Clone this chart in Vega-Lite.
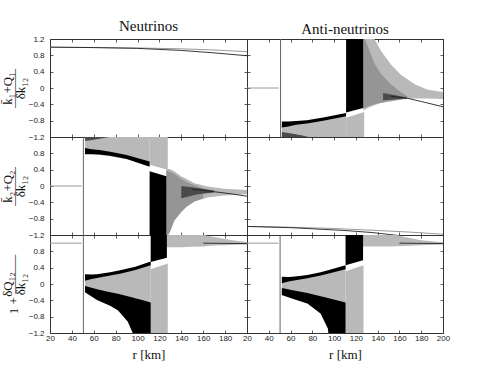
{
"$schema":"https://vega.github.io/schema/vega-lite/v6.json",
"padding":{"left":0,"top":18,"right":5,"bottom":5},
"background":"white",
"config":{
 "view":{"stroke":"#333","strokeWidth":1},
 "axis":{"domain":false,"grid":false,"tickSize":-3,"tickColor":"#333","tickWidth":0.8,"labelFont":"Liberation Sans","labelFontSize":8,"labelColor":"#222","labelFlush":false,"labelOverlap":false,"titleFont":"Liberation Serif","titleFontWeight":"normal","titleColor":"#111"},
 "axisLeft":{"labelPadding":9},
 "axisBottom":{"labelPadding":4},
 "title":{"font":"Liberation Serif","fontSize":15,"fontWeight":"normal","color":"#111","offset":1.5}
},
"data":{"values":[
{"p":"a","m":"lk","id":"a1","x":20,"y":1.0},{"p":"a","m":"lk","id":"a1","x":60,"y":0.99},{"p":"a","m":"lk","id":"a1","x":100,"y":0.97},{"p":"a","m":"lk","id":"a1","x":140,"y":0.92},{"p":"a","m":"lk","id":"a1","x":170,"y":0.86},{"p":"a","m":"lk","id":"a1","x":200,"y":0.79},
{"p":"a","m":"lg","id":"a2","x":20,"y":1.0},{"p":"a","m":"lg","id":"a2","x":60,"y":0.99},{"p":"a","m":"lg","id":"a2","x":100,"y":0.98},{"p":"a","m":"lg","id":"a2","x":140,"y":0.96},{"p":"a","m":"lg","id":"a2","x":170,"y":0.93},{"p":"a","m":"lg","id":"a2","x":200,"y":0.89},

{"p":"d","m":"lk","id":"d1","x":20,"y":-0.99},{"p":"d","m":"lk","id":"d1","x":60,"y":-1.02},{"p":"d","m":"lk","id":"d1","x":110,"y":-1.09},{"p":"d","m":"lk","id":"d1","x":135,"y":-1.14},{"p":"d","m":"lk","id":"d1","x":155,"y":-1.2},{"p":"d","m":"lk","id":"d1","x":200,"y":-1.33},
{"p":"d","m":"lg","id":"d2","x":20,"y":-0.99},{"p":"d","m":"lg","id":"d2","x":60,"y":-1.01},{"p":"d","m":"lg","id":"d2","x":100,"y":-1.04},{"p":"d","m":"lg","id":"d2","x":140,"y":-1.09},{"p":"d","m":"lg","id":"d2","x":170,"y":-1.13},{"p":"d","m":"lg","id":"d2","x":200,"y":-1.18},

{"p":"b","m":"lg","id":"b1","x":20,"y":0},{"p":"b","m":"lg","id":"b1","x":49,"y":0},
{"p":"b","m":"lv","id":"b2","x":50.8,"y":-1.3},{"p":"b","m":"lv","id":"b2","x":50.8,"y":1.3},
{"p":"b","m":"lk","id":"b3","x":152,"y":-0.2},{"p":"b","m":"lk","id":"b3","x":167,"y":-0.25},{"p":"b","m":"lk","id":"b3","x":180,"y":-0.33},{"p":"b","m":"lk","id":"b3","x":200,"y":-0.46},
{"p":"b","m":"g","id":"bg1","x":52,"y":-0.89,"y2":-1.3},{"p":"b","m":"g","id":"bg1","x":70,"y":-0.84,"y2":-1.3},{"p":"b","m":"g","id":"bg1","x":90,"y":-0.76,"y2":-1.3},{"p":"b","m":"g","id":"bg1","x":111,"y":-0.65,"y2":-1.3},
{"p":"b","m":"g","id":"bg2","x":111,"y":-0.73,"y2":-1.3},{"p":"b","m":"g","id":"bg2","x":127.6,"y":-0.59,"y2":-1.3},
{"p":"b","m":"g","id":"bg3","x":126.7,"y":1.3,"y2":-0.55},{"p":"b","m":"g","id":"bg3","x":132,"y":1.3,"y2":-0.48},{"p":"b","m":"g","id":"bg3","x":137,"y":1.2,"y2":-0.42},{"p":"b","m":"g","id":"bg3","x":143,"y":0.91,"y2":-0.37},{"p":"b","m":"g","id":"bg3","x":152,"y":0.58,"y2":-0.33},{"p":"b","m":"g","id":"bg3","x":161,"y":0.33,"y2":-0.29},{"p":"b","m":"g","id":"bg3","x":167,"y":0.22,"y2":-0.27},{"p":"b","m":"g","id":"bg3","x":174,"y":0.09,"y2":-0.26},{"p":"b","m":"g","id":"bg3","x":186,"y":-0.04,"y2":-0.26},{"p":"b","m":"g","id":"bg3","x":200,"y":-0.1,"y2":-0.27},
{"p":"b","m":"m","id":"bm1","x":126.7,"y":1.3,"y2":-0.5},{"p":"b","m":"m","id":"bm1","x":132,"y":0.95,"y2":-0.44},{"p":"b","m":"m","id":"bm1","x":137,"y":0.6,"y2":-0.4},{"p":"b","m":"m","id":"bm1","x":143,"y":0.35,"y2":-0.36},{"p":"b","m":"m","id":"bm1","x":152,"y":0.1,"y2":-0.31},{"p":"b","m":"m","id":"bm1","x":161,"y":-0.1,"y2":-0.28},{"p":"b","m":"m","id":"bm1","x":167,"y":-0.2,"y2":-0.25},
{"p":"b","m":"k","id":"bk1","x":52,"y":-0.82,"y2":-0.97},{"p":"b","m":"k","id":"bk1","x":58,"y":-0.82,"y2":-0.94},{"p":"b","m":"k","id":"bk1","x":65,"y":-0.81,"y2":-0.9},{"p":"b","m":"k","id":"bk1","x":75,"y":-0.79,"y2":-0.87},{"p":"b","m":"k","id":"bk1","x":90,"y":-0.72,"y2":-0.8},{"p":"b","m":"k","id":"bk1","x":111,"y":-0.61,"y2":-0.69},
{"p":"b","m":"d","id":"bk2","x":52,"y":-1.08,"y2":-1.3},{"p":"b","m":"d","id":"bk2","x":62,"y":-1.12,"y2":-1.3},{"p":"b","m":"d","id":"bk2","x":70,"y":-1.16,"y2":-1.3},{"p":"b","m":"d","id":"bk2","x":78,"y":-1.21,"y2":-1.3},
{"p":"b","m":"k","id":"bk3","x":111,"y":1.3,"y2":-0.6},{"p":"b","m":"k","id":"bk3","x":126.7,"y":1.3,"y2":-0.49},
{"p":"b","m":"d","id":"bd1","x":145,"y":-0.12,"y2":-0.3},{"p":"b","m":"d","id":"bd1","x":155,"y":-0.17,"y2":-0.28},{"p":"b","m":"d","id":"bd1","x":167,"y":-0.23,"y2":-0.26},

{"p":"c","m":"lg","id":"c1","x":20,"y":0},{"p":"c","m":"lg","id":"c1","x":49,"y":0},
{"p":"c","m":"lv","id":"c2","x":50.5,"y":-1.3},{"p":"c","m":"lv","id":"c2","x":50.5,"y":1.3},
{"p":"c","m":"lk","id":"c3","x":150,"y":-0.08},{"p":"c","m":"lk","id":"c3","x":170,"y":-0.14},{"p":"c","m":"lk","id":"c3","x":185,"y":-0.19},{"p":"c","m":"lk","id":"c3","x":200,"y":-0.25},
{"p":"c","m":"g","id":"cg1","x":52,"y":1.3,"y2":0.8},{"p":"c","m":"g","id":"cg1","x":60,"y":1.3,"y2":0.78},{"p":"c","m":"g","id":"cg1","x":70,"y":1.3,"y2":0.75},{"p":"c","m":"g","id":"cg1","x":90,"y":1.3,"y2":0.66},{"p":"c","m":"g","id":"cg1","x":111,"y":1.3,"y2":0.5},
{"p":"c","m":"g","id":"cg2","x":111,"y":1.3,"y2":0.52},{"p":"c","m":"g","id":"cg2","x":127.6,"y":1.3,"y2":0.4},
{"p":"c","m":"g","id":"cg3","x":126.3,"y":0.42,"y2":-1.3},{"p":"c","m":"g","id":"cg3","x":130,"y":0.41,"y2":-1.05},{"p":"c","m":"g","id":"cg3","x":133.6,"y":0.36,"y2":-0.79},{"p":"c","m":"g","id":"cg3","x":139.8,"y":0.24,"y2":-0.6},{"p":"c","m":"g","id":"cg3","x":142.8,"y":0.2,"y2":-0.54},{"p":"c","m":"g","id":"cg3","x":151.9,"y":0.07,"y2":-0.38},{"p":"c","m":"g","id":"cg3","x":164,"y":-0.01,"y2":-0.28},{"p":"c","m":"g","id":"cg3","x":179,"y":-0.07,"y2":-0.23},{"p":"c","m":"g","id":"cg3","x":200,"y":-0.1,"y2":-0.2},
{"p":"c","m":"m","id":"cm1","x":126.3,"y":0.38,"y2":-1.3},{"p":"c","m":"m","id":"cm1","x":130,"y":0.35,"y2":-1.1},{"p":"c","m":"m","id":"cm1","x":133.6,"y":0.3,"y2":-0.85},{"p":"c","m":"m","id":"cm1","x":139.8,"y":0.18,"y2":-0.64},{"p":"c","m":"m","id":"cm1","x":145,"y":0.1,"y2":-0.5},{"p":"c","m":"m","id":"cm1","x":152,"y":0.02,"y2":-0.38},{"p":"c","m":"m","id":"cm1","x":160,"y":-0.06,"y2":-0.3},
{"p":"c","m":"k","id":"ck1","x":52,"y":0.93,"y2":0.78},{"p":"c","m":"k","id":"ck1","x":58,"y":0.9,"y2":0.78},{"p":"c","m":"k","id":"ck1","x":65,"y":0.88,"y2":0.77},{"p":"c","m":"k","id":"ck1","x":75,"y":0.84,"y2":0.74},{"p":"c","m":"k","id":"ck1","x":90,"y":0.76,"y2":0.66},{"p":"c","m":"k","id":"ck1","x":111,"y":0.6,"y2":0.47},
{"p":"c","m":"d","id":"ck2","x":52,"y":1.3,"y2":1.1},{"p":"c","m":"d","id":"ck2","x":60,"y":1.3,"y2":1.13},{"p":"c","m":"d","id":"ck2","x":68,"y":1.3,"y2":1.17},{"p":"c","m":"d","id":"ck2","x":76,"y":1.3,"y2":1.21},
{"p":"c","m":"k","id":"ck3","x":111,"y":0.36,"y2":-1.3},{"p":"c","m":"k","id":"ck3","x":126.3,"y":0.24,"y2":-1.3},
{"p":"c","m":"d","id":"cd1","x":140,"y":0.0,"y2":-0.3},{"p":"c","m":"d","id":"cd1","x":155,"y":-0.05,"y2":-0.2},{"p":"c","m":"d","id":"cd1","x":170,"y":-0.11,"y2":-0.16},

{"p":"e","m":"lg","id":"e1","x":20,"y":1.0},{"p":"e","m":"lg","id":"e1","x":49,"y":1.0},
{"p":"e","m":"lv","id":"e2","x":50.5,"y":-1.3},{"p":"e","m":"lv","id":"e2","x":50.5,"y":1.3},
{"p":"e","m":"lk","id":"e3","x":160,"y":1.0},{"p":"e","m":"lk","id":"e3","x":200,"y":0.99},
{"p":"e","m":"g","id":"eg1","x":52,"y":0.16,"y2":-0.2},{"p":"e","m":"g","id":"eg1","x":63,"y":0.2,"y2":-0.39},{"p":"e","m":"g","id":"eg1","x":75,"y":0.25,"y2":-0.53},{"p":"e","m":"g","id":"eg1","x":82,"y":0.28,"y2":-0.64},{"p":"e","m":"g","id":"eg1","x":91,"y":0.33,"y2":-0.92},{"p":"e","m":"g","id":"eg1","x":95.6,"y":0.36,"y2":-1.2},{"p":"e","m":"g","id":"eg1","x":97,"y":0.37,"y2":-1.3},{"p":"e","m":"g","id":"eg1","x":112,"y":0.5,"y2":-1.3},
{"p":"e","m":"g","id":"eg2","x":112,"y":0.36,"y2":-1.3},{"p":"e","m":"g","id":"eg2","x":127.6,"y":0.5,"y2":-1.3},
{"p":"e","m":"g","id":"eg3","x":126.8,"y":1.3,"y2":0.9},{"p":"e","m":"g","id":"eg3","x":140,"y":1.3,"y2":0.9},{"p":"e","m":"g","id":"eg3","x":150,"y":1.25,"y2":0.91},{"p":"e","m":"g","id":"eg3","x":160,"y":1.2,"y2":0.92},{"p":"e","m":"g","id":"eg3","x":170,"y":1.15,"y2":0.94},{"p":"e","m":"g","id":"eg3","x":180,"y":1.1,"y2":0.95},{"p":"e","m":"g","id":"eg3","x":190,"y":1.06,"y2":0.96},{"p":"e","m":"g","id":"eg3","x":200,"y":1.03,"y2":0.97},
{"p":"e","m":"k","id":"ek1","x":52,"y":0.24,"y2":0.08},{"p":"e","m":"k","id":"ek1","x":58,"y":0.23,"y2":0.12},{"p":"e","m":"k","id":"ek1","x":63,"y":0.24,"y2":0.15},{"p":"e","m":"k","id":"ek1","x":75,"y":0.29,"y2":0.21},{"p":"e","m":"k","id":"ek1","x":85,"y":0.34,"y2":0.26},{"p":"e","m":"k","id":"ek1","x":98,"y":0.42,"y2":0.34},{"p":"e","m":"k","id":"ek1","x":112,"y":0.55,"y2":0.46},
{"p":"e","m":"k","id":"ek2","x":52,"y":-0.05,"y2":-0.2},{"p":"e","m":"k","id":"ek2","x":63,"y":-0.13,"y2":-0.39},{"p":"e","m":"k","id":"ek2","x":75,"y":-0.2,"y2":-0.53},{"p":"e","m":"k","id":"ek2","x":82,"y":-0.24,"y2":-0.64},{"p":"e","m":"k","id":"ek2","x":91,"y":-0.3,"y2":-0.92},{"p":"e","m":"k","id":"ek2","x":95.6,"y":-0.33,"y2":-1.2},{"p":"e","m":"k","id":"ek2","x":97,"y":-0.34,"y2":-1.3},{"p":"e","m":"k","id":"ek2","x":105,"y":-0.4,"y2":-1.3},{"p":"e","m":"k","id":"ek2","x":112,"y":-0.45,"y2":-1.3},
{"p":"e","m":"k","id":"ek3","x":112,"y":1.3,"y2":0.54},{"p":"e","m":"k","id":"ek3","x":126.8,"y":1.3,"y2":0.64},

{"p":"f","m":"lg","id":"f1","x":20,"y":1.0},{"p":"f","m":"lg","id":"f1","x":49,"y":1.0},
{"p":"f","m":"lv","id":"f2","x":50.4,"y":-1.3},{"p":"f","m":"lv","id":"f2","x":50.4,"y":1.3},
{"p":"f","m":"lk","id":"f3","x":160,"y":1.0},{"p":"f","m":"lk","id":"f3","x":200,"y":0.99},
{"p":"f","m":"g","id":"fg1","x":52,"y":0.1,"y2":-0.27},{"p":"f","m":"g","id":"fg1","x":62,"y":0.13,"y2":-0.36},{"p":"f","m":"g","id":"fg1","x":75.5,"y":0.18,"y2":-0.48},{"p":"f","m":"g","id":"fg1","x":87.6,"y":0.25,"y2":-0.72},{"p":"f","m":"g","id":"fg1","x":94.3,"y":0.29,"y2":-1.09},{"p":"f","m":"g","id":"fg1","x":95.2,"y":0.3,"y2":-1.3},{"p":"f","m":"g","id":"fg1","x":110.5,"y":0.41,"y2":-1.3},
{"p":"f","m":"g","id":"fg2","x":110.5,"y":0.31,"y2":-1.3},{"p":"f","m":"g","id":"fg2","x":127,"y":0.46,"y2":-1.3},
{"p":"f","m":"g","id":"fg3","x":126.6,"y":1.3,"y2":0.92},{"p":"f","m":"g","id":"fg3","x":140,"y":1.3,"y2":0.92},{"p":"f","m":"g","id":"fg3","x":150,"y":1.25,"y2":0.92},{"p":"f","m":"g","id":"fg3","x":165,"y":1.15,"y2":0.93},{"p":"f","m":"g","id":"fg3","x":180,"y":1.07,"y2":0.95},{"p":"f","m":"g","id":"fg3","x":200,"y":1.02,"y2":0.97},
{"p":"f","m":"k","id":"fk1","x":52,"y":0.18,"y2":0.02},{"p":"f","m":"k","id":"fk1","x":58,"y":0.17,"y2":0.06},{"p":"f","m":"k","id":"fk1","x":62,"y":0.18,"y2":0.08},{"p":"f","m":"k","id":"fk1","x":75.5,"y":0.22,"y2":0.14},{"p":"f","m":"k","id":"fk1","x":87.6,"y":0.29,"y2":0.21},{"p":"f","m":"k","id":"fk1","x":95.2,"y":0.34,"y2":0.26},{"p":"f","m":"k","id":"fk1","x":110.5,"y":0.46,"y2":0.36},
{"p":"f","m":"k","id":"fk2","x":52,"y":-0.1,"y2":-0.27},{"p":"f","m":"k","id":"fk2","x":62,"y":-0.15,"y2":-0.36},{"p":"f","m":"k","id":"fk2","x":75.5,"y":-0.22,"y2":-0.48},{"p":"f","m":"k","id":"fk2","x":87.6,"y":-0.3,"y2":-0.72},{"p":"f","m":"k","id":"fk2","x":94.3,"y":-0.34,"y2":-1.09},{"p":"f","m":"k","id":"fk2","x":95.2,"y":-0.35,"y2":-1.3},{"p":"f","m":"k","id":"fk2","x":110.5,"y":-0.45,"y2":-1.3},
{"p":"f","m":"k","id":"fk3","x":110.5,"y":1.3,"y2":0.46},{"p":"f","m":"k","id":"fk3","x":126.6,"y":1.3,"y2":0.58}
]},
"columns":2,
"spacing":0,
"bounds":"flush",
"concat":[
{"width":197,"height":98,"title":"Neutrinos","transform":[{"filter":"datum.p=='a'"}],
 "encoding":{"x":{"field":"x","type":"quantitative","scale":{"domain":[20,200],"nice":false,"zero":false},"axis":null},"y":{"field":"y","type":"quantitative","scale":{"domain":[-1.2,1.2],"nice":false,"zero":false},"axis":null},"detail":{"field":"id"}},
 "layer":[
  {"transform":[{"filter":"datum.m=='g'"}],"mark":{"type":"area","clip":true,"color":"#b9b9b9"},"encoding":{"x":{"field":"x","type":"quantitative","scale":{"domain":[20,200],"nice":false,"zero":false},"axis":{"orient":"bottom","values":[20,40,60,80,100,120,140,160,180,200],"labels":false,"title":null}},"y":{"field":"y","type":"quantitative","scale":{"domain":[-1.2,1.2],"nice":false,"zero":false},"axis":{"orient":"left","values":[-1.2,-0.8,-0.4,0,0.4,0.8,1.2],"format":".1~f","title":["k̄₁+Q₁","———","δk₁₂"],"titleFontSize":13,"titleLineHeight":6.5,"titlePadding":1}},"y2":{"field":"y2"}}},
  {"transform":[{"filter":"datum.m=='lg'"}],"mark":{"type":"line","clip":true,"color":"#9a9a9a","strokeWidth":1}},
  {"transform":[{"filter":"datum.m=='lk'"}],"mark":{"type":"line","clip":true,"color":"#222","strokeWidth":0.9}},
  {"transform":[{"filter":"datum.m=='none'"}],"mark":{"type":"line","clip":true},"encoding":{"x":{"field":"x","type":"quantitative","scale":{"domain":[20,200],"nice":false,"zero":false},"axis":{"orient":"top","values":[20,40,60,80,100,120,140,160,180,200],"labels":false,"title":null}},"y":{"field":"y","type":"quantitative","scale":{"domain":[-1.2,1.2],"nice":false,"zero":false},"axis":{"orient":"right","values":[-1.2,-0.8,-0.4,0,0.4,0.8,1.2],"labels":false,"title":null}}}}
 ],
 "resolve":{"axis":{"x":"independent","y":"independent"}}},
{"width":196,"height":98,"title":"Anti-neutrinos","transform":[{"filter":"datum.p=='b'"}],
 "encoding":{"x":{"field":"x","type":"quantitative","scale":{"domain":[20,200],"nice":false,"zero":false},"axis":null},"y":{"field":"y","type":"quantitative","scale":{"domain":[-1.2,1.2],"nice":false,"zero":false},"axis":null},"detail":{"field":"id"}},
 "layer":[
  {"transform":[{"filter":"datum.m=='g'"}],"mark":{"type":"area","clip":true,"color":"#b9b9b9"},"encoding":{"x":{"field":"x","type":"quantitative","scale":{"domain":[20,200],"nice":false,"zero":false},"axis":{"orient":"bottom","values":[20,40,60,80,100,120,140,160,180,200],"labels":false,"title":null}},"y":{"field":"y","type":"quantitative","scale":{"domain":[-1.2,1.2],"nice":false,"zero":false},"axis":{"orient":"left","values":[-1.2,-0.8,-0.4,0,0.4,0.8,1.2],"labels":false,"title":null}},"y2":{"field":"y2"}}},
  {"transform":[{"filter":"datum.m=='m'"}],"mark":{"type":"area","clip":true,"color":"#959595"},"encoding":{"y2":{"field":"y2"}}},
  {"transform":[{"filter":"datum.m=='d'"}],"mark":{"type":"area","clip":true,"color":"#4a4a4a"},"encoding":{"y2":{"field":"y2"}}},
  {"transform":[{"filter":"datum.m=='k'"}],"mark":{"type":"area","clip":true,"color":"#000"},"encoding":{"y2":{"field":"y2"}}},
  {"transform":[{"filter":"datum.m=='lg'"}],"mark":{"type":"line","clip":true,"color":"#9a9a9a","strokeWidth":1}},
  {"transform":[{"filter":"datum.m=='lk'"}],"mark":{"type":"line","clip":true,"color":"#222","strokeWidth":0.9}},
  {"transform":[{"filter":"datum.m=='lv'"}],"mark":{"type":"line","clip":true,"color":"#666","strokeWidth":1}},
  {"transform":[{"filter":"datum.m=='none'"}],"mark":{"type":"line","clip":true},"encoding":{"x":{"field":"x","type":"quantitative","scale":{"domain":[20,200],"nice":false,"zero":false},"axis":{"orient":"top","values":[20,40,60,80,100,120,140,160,180,200],"labels":false,"title":null}},"y":{"field":"y","type":"quantitative","scale":{"domain":[-1.2,1.2],"nice":false,"zero":false},"axis":{"orient":"right","values":[-1.2,-0.8,-0.4,0,0.4,0.8,1.2],"labels":false,"title":null}}}}
 ],
 "resolve":{"axis":{"x":"independent","y":"independent"}}},
{"width":197,"height":98,"transform":[{"filter":"datum.p=='c'"}],
 "encoding":{"x":{"field":"x","type":"quantitative","scale":{"domain":[20,200],"nice":false,"zero":false},"axis":null},"y":{"field":"y","type":"quantitative","scale":{"domain":[-1.2,1.2],"nice":false,"zero":false},"axis":null},"detail":{"field":"id"}},
 "layer":[
  {"transform":[{"filter":"datum.m=='g'"}],"mark":{"type":"area","clip":true,"color":"#b9b9b9"},"encoding":{"x":{"field":"x","type":"quantitative","scale":{"domain":[20,200],"nice":false,"zero":false},"axis":{"orient":"bottom","values":[20,40,60,80,100,120,140,160,180,200],"labels":false,"title":null}},"y":{"field":"y","type":"quantitative","scale":{"domain":[-1.2,1.2],"nice":false,"zero":false},"axis":{"orient":"left","values":[-1.2,-0.8,-0.4,0,0.4,0.8,1.2],"format":".1~f","labelExpr":"datum.value==1.2?'':datum.label","title":["k̄₂+Q₂","———","δk₁₂"],"titleFontSize":13,"titleLineHeight":6.5,"titlePadding":1}},"y2":{"field":"y2"}}},
  {"transform":[{"filter":"datum.m=='m'"}],"mark":{"type":"area","clip":true,"color":"#959595"},"encoding":{"y2":{"field":"y2"}}},
  {"transform":[{"filter":"datum.m=='d'"}],"mark":{"type":"area","clip":true,"color":"#4a4a4a"},"encoding":{"y2":{"field":"y2"}}},
  {"transform":[{"filter":"datum.m=='k'"}],"mark":{"type":"area","clip":true,"color":"#000"},"encoding":{"y2":{"field":"y2"}}},
  {"transform":[{"filter":"datum.m=='lg'"}],"mark":{"type":"line","clip":true,"color":"#9a9a9a","strokeWidth":1}},
  {"transform":[{"filter":"datum.m=='lk'"}],"mark":{"type":"line","clip":true,"color":"#222","strokeWidth":0.9}},
  {"transform":[{"filter":"datum.m=='lv'"}],"mark":{"type":"line","clip":true,"color":"#666","strokeWidth":1}},
  {"transform":[{"filter":"datum.m=='none'"}],"mark":{"type":"line","clip":true},"encoding":{"x":{"field":"x","type":"quantitative","scale":{"domain":[20,200],"nice":false,"zero":false},"axis":{"orient":"top","values":[20,40,60,80,100,120,140,160,180,200],"labels":false,"title":null}},"y":{"field":"y","type":"quantitative","scale":{"domain":[-1.2,1.2],"nice":false,"zero":false},"axis":{"orient":"right","values":[-1.2,-0.8,-0.4,0,0.4,0.8,1.2],"labels":false,"title":null}}}}
 ],
 "resolve":{"axis":{"x":"independent","y":"independent"}}},
{"width":196,"height":98,"transform":[{"filter":"datum.p=='d'"}],
 "encoding":{"x":{"field":"x","type":"quantitative","scale":{"domain":[20,200],"nice":false,"zero":false},"axis":null},"y":{"field":"y","type":"quantitative","scale":{"domain":[-1.2,1.2],"nice":false,"zero":false},"axis":null},"detail":{"field":"id"}},
 "layer":[
  {"transform":[{"filter":"datum.m=='g'"}],"mark":{"type":"area","clip":true,"color":"#b9b9b9"},"encoding":{"x":{"field":"x","type":"quantitative","scale":{"domain":[20,200],"nice":false,"zero":false},"axis":{"orient":"bottom","values":[20,40,60,80,100,120,140,160,180,200],"labels":false,"title":null}},"y":{"field":"y","type":"quantitative","scale":{"domain":[-1.2,1.2],"nice":false,"zero":false},"axis":{"orient":"left","values":[-1.2,-0.8,-0.4,0,0.4,0.8,1.2],"labels":false,"title":null}},"y2":{"field":"y2"}}},
  {"transform":[{"filter":"datum.m=='lg'"}],"mark":{"type":"line","clip":true,"color":"#9a9a9a","strokeWidth":1}},
  {"transform":[{"filter":"datum.m=='lk'"}],"mark":{"type":"line","clip":true,"color":"#222","strokeWidth":0.9}},
  {"transform":[{"filter":"datum.m=='none'"}],"mark":{"type":"line","clip":true},"encoding":{"x":{"field":"x","type":"quantitative","scale":{"domain":[20,200],"nice":false,"zero":false},"axis":{"orient":"top","values":[20,40,60,80,100,120,140,160,180,200],"labels":false,"title":null}},"y":{"field":"y","type":"quantitative","scale":{"domain":[-1.2,1.2],"nice":false,"zero":false},"axis":{"orient":"right","values":[-1.2,-0.8,-0.4,0,0.4,0.8,1.2],"labels":false,"title":null}}}}
 ],
 "resolve":{"axis":{"x":"independent","y":"independent"}}},
{"width":197,"height":98,"transform":[{"filter":"datum.p=='e'"}],
 "encoding":{"x":{"field":"x","type":"quantitative","scale":{"domain":[20,200],"nice":false,"zero":false},"axis":null},"y":{"field":"y","type":"quantitative","scale":{"domain":[-1.2,1.2],"nice":false,"zero":false},"axis":null},"detail":{"field":"id"}},
 "layer":[
  {"transform":[{"filter":"datum.m=='g'"}],"mark":{"type":"area","clip":true,"color":"#b9b9b9"},"encoding":{"x":{"field":"x","type":"quantitative","scale":{"domain":[20,200],"nice":false,"zero":false},"axis":{"orient":"bottom","values":[20,40,60,80,100,120,140,160,180,200],"format":"d","labelExpr":"datum.value==200?'':datum.label","title":"r [km]","titleFontSize":13,"titlePadding":6}},"y":{"field":"y","type":"quantitative","scale":{"domain":[-1.2,1.2],"nice":false,"zero":false},"axis":{"orient":"left","values":[-1.2,-0.8,-0.4,0,0.4,0.8,1.2],"format":".1~f","labelExpr":"datum.value==1.2?'':datum.label","title":["        δQ₁₂","1 + ———","        δk₁₂"],"titleFontSize":13,"titleLineHeight":6.5,"titlePadding":1}},"y2":{"field":"y2"}}},
  {"transform":[{"filter":"datum.m=='m'"}],"mark":{"type":"area","clip":true,"color":"#959595"},"encoding":{"y2":{"field":"y2"}}},
  {"transform":[{"filter":"datum.m=='k'"}],"mark":{"type":"area","clip":true,"color":"#000"},"encoding":{"y2":{"field":"y2"}}},
  {"transform":[{"filter":"datum.m=='lg'"}],"mark":{"type":"line","clip":true,"color":"#9a9a9a","strokeWidth":1}},
  {"transform":[{"filter":"datum.m=='lk'"}],"mark":{"type":"line","clip":true,"color":"#222","strokeWidth":0.9}},
  {"transform":[{"filter":"datum.m=='lv'"}],"mark":{"type":"line","clip":true,"color":"#666","strokeWidth":1}},
  {"transform":[{"filter":"datum.m=='none'"}],"mark":{"type":"line","clip":true},"encoding":{"x":{"field":"x","type":"quantitative","scale":{"domain":[20,200],"nice":false,"zero":false},"axis":{"orient":"top","values":[20,40,60,80,100,120,140,160,180,200],"labels":false,"title":null}},"y":{"field":"y","type":"quantitative","scale":{"domain":[-1.2,1.2],"nice":false,"zero":false},"axis":{"orient":"right","values":[-1.2,-0.8,-0.4,0,0.4,0.8,1.2],"labels":false,"title":null}}}}
 ],
 "resolve":{"axis":{"x":"independent","y":"independent"}}},
{"width":196,"height":98,"transform":[{"filter":"datum.p=='f'"}],
 "encoding":{"x":{"field":"x","type":"quantitative","scale":{"domain":[20,200],"nice":false,"zero":false},"axis":null},"y":{"field":"y","type":"quantitative","scale":{"domain":[-1.2,1.2],"nice":false,"zero":false},"axis":null},"detail":{"field":"id"}},
 "layer":[
  {"transform":[{"filter":"datum.m=='g'"}],"mark":{"type":"area","clip":true,"color":"#b9b9b9"},"encoding":{"x":{"field":"x","type":"quantitative","scale":{"domain":[20,200],"nice":false,"zero":false},"axis":{"orient":"bottom","values":[20,40,60,80,100,120,140,160,180,200],"format":"d","title":"r [km]","titleFontSize":13,"titlePadding":6}},"y":{"field":"y","type":"quantitative","scale":{"domain":[-1.2,1.2],"nice":false,"zero":false},"axis":{"orient":"left","values":[-1.2,-0.8,-0.4,0,0.4,0.8,1.2],"labels":false,"title":null}},"y2":{"field":"y2"}}},
  {"transform":[{"filter":"datum.m=='m'"}],"mark":{"type":"area","clip":true,"color":"#959595"},"encoding":{"y2":{"field":"y2"}}},
  {"transform":[{"filter":"datum.m=='k'"}],"mark":{"type":"area","clip":true,"color":"#000"},"encoding":{"y2":{"field":"y2"}}},
  {"transform":[{"filter":"datum.m=='lg'"}],"mark":{"type":"line","clip":true,"color":"#9a9a9a","strokeWidth":1}},
  {"transform":[{"filter":"datum.m=='lk'"}],"mark":{"type":"line","clip":true,"color":"#222","strokeWidth":0.9}},
  {"transform":[{"filter":"datum.m=='lv'"}],"mark":{"type":"line","clip":true,"color":"#666","strokeWidth":1}},
  {"transform":[{"filter":"datum.m=='none'"}],"mark":{"type":"line","clip":true},"encoding":{"x":{"field":"x","type":"quantitative","scale":{"domain":[20,200],"nice":false,"zero":false},"axis":{"orient":"top","values":[20,40,60,80,100,120,140,160,180,200],"labels":false,"title":null}},"y":{"field":"y","type":"quantitative","scale":{"domain":[-1.2,1.2],"nice":false,"zero":false},"axis":{"orient":"right","values":[-1.2,-0.8,-0.4,0,0.4,0.8,1.2],"labels":false,"title":null}}}}
 ],
 "resolve":{"axis":{"x":"independent","y":"independent"}}}
]
}
